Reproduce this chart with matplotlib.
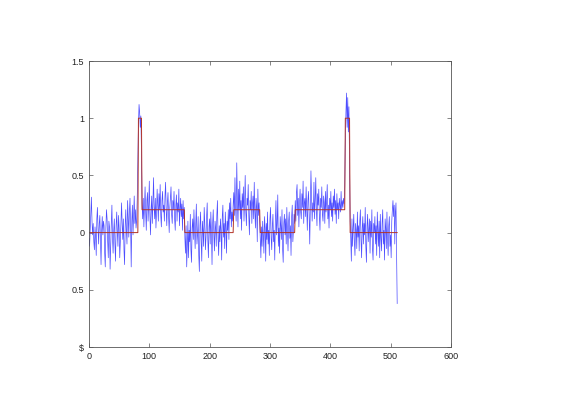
import numpy as np
import matplotlib
matplotlib.use("Agg")
import matplotlib.pyplot as plt

matplotlib.rc("font", family="Liberation Sans")

# noisy observation (blue), read off the picture sample by sample (estimated)
observed = [
    # 0-79, level 0
    -0.05, -0.12, 0.02, 0.18, 0.31, 0.10, -0.02, 0.08, -0.08, -0.15, 0.05, -0.04, -0.20, 0.12, 0.22, 0.03,
    -0.10, 0.08, 0.15, -0.06, -0.28, 0.02, 0.14, -0.02, 0.10, 0.06, -0.18, -0.30, 0.04, 0.20, 0.12, -0.08,
    -0.22, 0.10, 0.05, -0.32, -0.12, 0.08, 0.24, -0.05, -0.18, 0.02, 0.12, -0.10, -0.25, 0.06, 0.18, 0.00,
    -0.12, 0.15, 0.04, -0.22, -0.08, 0.10, 0.26, 0.08, -0.06, 0.12, -0.15, -0.28, 0.05, 0.20, 0.02, -0.10,
    0.28, 0.14, -0.04, 0.18, 0.30, 0.06, -0.30, 0.10, 0.24, -0.02, 0.16, 0.32, 0.08, 0.20, 0.04, 0.10,
    # 80-87, first peak
    0.30, 0.62, 0.95, 1.12, 1.05, 0.92, 1.02, 0.70,
    # 88-158, level 0.2
    0.25, 0.12, 0.30, 0.05, 0.22, 0.40, 0.18, 0.02, 0.28, 0.35, 0.10, 0.24, 0.45, 0.15, -0.02, 0.20,
    0.32, 0.08, 0.26, 0.48, 0.22, 0.12, 0.30, 0.04, 0.18, 0.38, 0.25, 0.10, 0.34, 0.20, 0.42, 0.15,
    0.05, 0.28, 0.36, 0.18, 0.24, 0.10, 0.32, 0.44, 0.20, 0.06, 0.26, 0.35, 0.14, 0.00, 0.22, 0.30,
    0.40, 0.16, 0.08, 0.28, 0.20, 0.36, 0.12, 0.02, 0.24, 0.33, 0.10, 0.26, 0.18, 0.38, 0.06, 0.20,
    0.30, 0.14, 0.25, 0.02, 0.28, 0.12, 0.22,
    # 159-239, level 0
    -0.05, -0.18, 0.06, -0.30, -0.12, 0.10, -0.22, 0.02, -0.08, 0.16, -0.15, -0.26, 0.04, 0.12, -0.06, 0.20,
    0.02, -0.14, 0.08, 0.25, -0.10, -0.02, 0.14, -0.20, -0.34, 0.06, 0.18, -0.08, -0.25, 0.10, 0.02, -0.12,
    0.22, 0.08, -0.15, -0.04, 0.14, 0.26, -0.06, -0.22, 0.05, 0.12, -0.10, 0.18, 0.00, -0.28, 0.08, 0.20,
    -0.02, -0.16, 0.10, 0.04, -0.12, 0.16, 0.28, -0.05, -0.20, 0.06, -0.08, 0.12, 0.02, -0.24, 0.14, 0.24,
    -0.04, 0.08, -0.14, 0.18, 0.04, -0.18, 0.10, 0.02, 0.20, -0.06, 0.26, 0.12, 0.30, 0.05, 0.18, 0.10, 0.24,
    # 240-283, level 0.2
    0.35, 0.15, 0.48, 0.22, 0.10, 0.61, 0.30, 0.05, 0.38, 0.20, 0.45, 0.12, 0.28, 0.02, 0.34, 0.22,
    0.40, 0.10, 0.26, 0.50, 0.18, 0.06, 0.30, 0.24, 0.42, 0.14, -0.02, 0.28, 0.20, 0.36, 0.08, 0.25,
    0.32, 0.12, 0.44, 0.18, 0.04, 0.30, 0.22, -0.08, 0.38, 0.15, 0.26, 0.10,
    # 284-341, level 0
    -0.08, -0.22, 0.05, -0.12, 0.10, -0.02, -0.18, 0.14, 0.04, -0.25, 0.08, -0.06, 0.18, -0.10, 0.02, -0.20,
    0.12, 0.22, -0.04, -0.15, 0.06, 0.16, -0.08, 0.02, -0.24, 0.10, 0.28, -0.02, 0.08, 0.33, -0.12, 0.04,
    -0.18, 0.14, 0.06, -0.06, 0.20, -0.14, -0.26, 0.08, 0.16, -0.02, 0.12, -0.10, 0.22, 0.02, -0.16, 0.10,
    0.18, -0.05, 0.06, -0.20, 0.14, 0.24, -0.08, 0.02, 0.16, 0.08,
    # 342-424, level 0.2
    0.28, 0.10, 0.35, 0.42, 0.15, 0.30, 0.05, 0.24, 0.38, 0.18, 0.12, 0.34, 0.22, 0.45, 0.08, 0.26,
    0.30, 0.14, 0.40, 0.20, 0.02, 0.28, 0.36, 0.16, -0.10, 0.22, 0.54, 0.32, 0.10, 0.26, 0.18, 0.44,
    0.12, 0.28, 0.48, 0.20, 0.06, 0.34, 0.24, 0.38, 0.14, 0.02, 0.30, 0.22, 0.40, 0.16, 0.10, 0.32,
    0.26, 0.08, 0.36, 0.18, 0.28, 0.42, 0.12, 0.24, 0.04, 0.30, 0.20, 0.36, 0.14, 0.26, 0.10, 0.32,
    0.22, 0.38, 0.16, 0.28, 0.08, 0.34, 0.20, 0.26, 0.12, 0.30, 0.24, 0.18, 0.36, 0.20, 0.28, 0.22,
    0.30, 0.25, 0.40,
    # 425-432, second peak
    0.80, 1.05, 1.22, 0.92, 1.18, 0.88, 1.10, 0.60,
    # 433-511, level 0
    0.10, -0.05, -0.25, 0.12, -0.12, 0.04, 0.16, -0.08, -0.20, 0.08, 0.02, -0.14, 0.18, -0.04, 0.06, -0.16,
    0.10, 0.20, -0.06, -0.22, 0.04, 0.14, -0.10, 0.08, -0.02, 0.22, -0.12, -0.26, 0.06, 0.16, -0.08, 0.02,
    0.12, -0.18, 0.10, -0.04, 0.20, -0.14, -0.24, 0.08, 0.00, 0.14, -0.10, 0.06, -0.20, 0.18, 0.04, -0.12,
    0.10, -0.22, 0.16, -0.04, -0.16, 0.08, 0.20, -0.10, 0.02, -0.24, 0.12, 0.04, -0.14, 0.18, -0.06, -0.20,
    0.06, 0.14, -0.12, -0.02, -0.22, 0.10, 0.20, 0.28, 0.14, 0.24, -0.10, 0.18, 0.26, -0.20, -0.62,
]

# true piecewise constant signal (red)
seg_start = [0, 82, 88, 159, 240, 284, 342, 425, 433]
seg_level = [0, 1, 0.2, 0, 0.2, 0, 0.2, 1, 0]
n_samples = 512

ytick_pos = [-1, -0.5, 0, 0.5, 1, 1.5]
ytick_lab = ["\\$", "0.5", "0", "0.5", "1", "1.5"]
xtick_pos = [0, 100, 200, 300, 400, 500, 600]

# собираем ступенчатый сигнал
seg_len = np.diff(seg_start + [n_samples])
truth = np.repeat(seg_level, seg_len)

fig = plt.figure(figsize=(5.65, 4.0), dpi=100)
ax = fig.add_axes([0.1575, 0.1325, 0.6405, 0.715])

ax.plot(np.arange(len(observed)), observed, color=(0.3, 0.3, 1.0), lw=0.5)
ax.plot(np.arange(len(truth)), truth, color=(0.7, 0.2, 0.15), lw=0.7)

ax.set_xlim(0, 600)
ax.set_ylim(-1, 1.5)
ax.set_xticks(xtick_pos)
ax.set_yticks(ytick_pos)
ax.set_yticklabels(ytick_lab)

for s in ax.spines.values():
    s.set_color("#555555")
    s.set_linewidth(0.6)
ax.tick_params(direction="in", length=3, width=0.5, colors="#555555",
               labelcolor="#222222", labelsize=6.5, top=True, right=True)

fig.savefig("out.png", dpi=100)
